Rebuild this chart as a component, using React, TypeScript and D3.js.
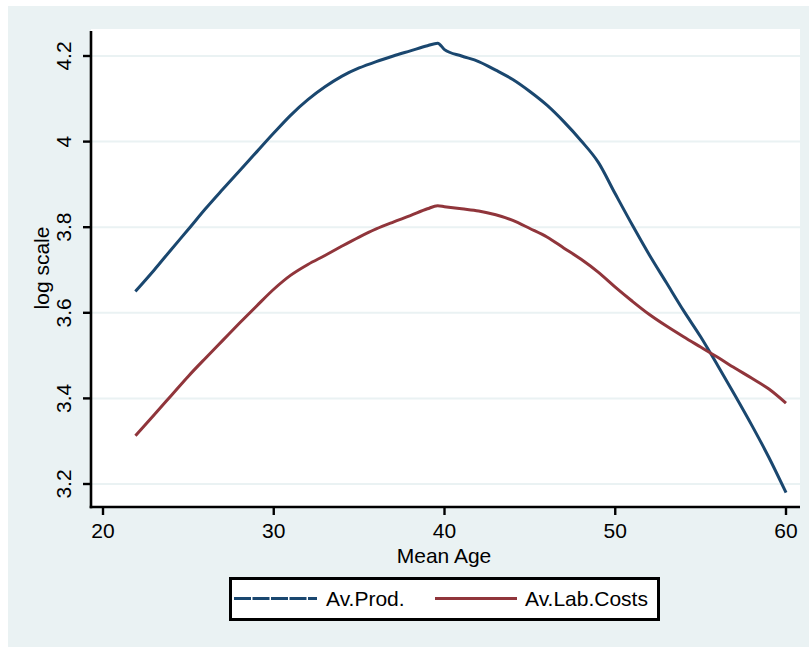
import React from "react";
import * as d3 from "d3";

const ages = [21.9, 23, 24, 25, 26, 27, 28, 29, 30, 31, 32, 33, 34, 35, 36, 37, 38, 39, 39.6, 40, 41, 42, 43, 44, 45, 46, 47, 48, 49, 50, 51, 52, 53, 54, 55, 56, 57, 58, 59, 60];
const avProd = [3.65, 3.7, 3.748, 3.795, 3.843, 3.888, 3.932, 3.976, 4.02, 4.062, 4.098, 4.128, 4.153, 4.172, 4.187, 4.2, 4.212, 4.224, 4.23, 4.215, 4.2, 4.187, 4.167, 4.145, 4.117, 4.085, 4.046, 4.002, 3.952, 3.878, 3.805, 3.735, 3.67, 3.605, 3.544, 3.477, 3.408, 3.337, 3.262, 3.18];
const avLabCosts = [3.313, 3.362, 3.407, 3.452, 3.494, 3.535, 3.576, 3.616, 3.655, 3.688, 3.713, 3.734, 3.756, 3.777, 3.796, 3.812, 3.827, 3.843, 3.85, 3.848, 3.843, 3.838, 3.829, 3.816, 3.797, 3.777, 3.751, 3.725, 3.695, 3.66, 3.627, 3.596, 3.569, 3.544, 3.52, 3.496, 3.471, 3.447, 3.422, 3.389];
const xTicks = [20, 30, 40, 50, 60];
const yTicks = [3.2, 3.4, 3.6, 3.8, 4, 4.2];
const seriesNames = ["Av.Prod.", "Av.Lab.Costs"];
const xTitle = "Mean Age";
const yTitle = "log scale";

const BG = "#EAF2F3";
const BLUE = "#1A476F";
const RED = "#90353B";
const FONT = "'Liberation Sans', Arial, sans-serif";

export default function App() {
  const plotL = 91, plotR = 800, plotT = 29, plotB = 507;
  const x = d3.scaleLinear().domain([20, 60]).range([103, 786]);
  const y = d3.scaleLinear().domain([3.2, 4.2]).range([484, 56]);
  const line = d3
    .line<number>()
    .x((_, i) => x(ages[i]))
    .y((d) => y(d))
    .curve(d3.curveMonotoneX);

  return (
    <svg
      width={809}
      height={647}
      style={{ position: "absolute", left: 0, top: 0 }}
      fontFamily={FONT}
    >
      <rect x={0} y={0} width={809} height={647} fill="#ffffff" />
      <rect x={8} y={6} width={801} height={641} fill={BG} />
      <rect x={plotL} y={plotT} width={plotR - plotL} height={plotB - plotT} fill="#ffffff" />
      {yTicks.map((t) => (
        <line key={"g" + t} x1={plotL} x2={plotR} y1={y(t)} y2={y(t)} stroke={BG} strokeWidth={2} />
      ))}
      {/* series */}
      <path d={line(avProd) || ""} fill="none" stroke={BLUE} strokeWidth={3} />
      <path d={line(avLabCosts) || ""} fill="none" stroke={RED} strokeWidth={3} />
      {/* axes */}
      <line x1={plotL} x2={plotL} y1={31} y2={plotB + 1.3} stroke="#000" strokeWidth={2.6} />
      <line x1={plotL - 1.3} x2={plotR} y1={plotB} y2={plotB} stroke="#000" strokeWidth={2.6} />
      {yTicks.map((t) => (
        <g key={"y" + t}>
          <line x1={plotL - 8} x2={plotL} y1={y(t)} y2={y(t)} stroke="#000" strokeWidth={2.4} />
          <text
            transform={`translate(71,${y(t)}) rotate(-90)`}
            textAnchor="middle"
            fontSize={21}
            fill="#000"
          >
            {d3.format("")(t)}
          </text>
        </g>
      ))}
      {xTicks.map((t) => (
        <g key={"x" + t}>
          <line x1={x(t)} x2={x(t)} y1={plotB} y2={plotB + 8} stroke="#000" strokeWidth={2.4} />
          <text x={x(t)} y={538} textAnchor="middle" fontSize={21} fill="#000">
            {t}
          </text>
        </g>
      ))}
      <text x={444} y={563} textAnchor="middle" fontSize={21} fill="#000">
        {xTitle}
      </text>
      <text transform={`translate(49,268) rotate(-90)`} textAnchor="middle" fontSize={21} fill="#000">
        {yTitle}
      </text>
      {/* legend */}
      <rect x={230.5} y={578.5} width={428} height={41} fill="#ffffff" stroke="#000" strokeWidth={3} />
      <line x1={234} x2={317} y1={598.5} y2={598.5} stroke={BLUE} strokeWidth={3} strokeDasharray="17,1.5" />
      <text x={326} y={606} fontSize={21} fill="#000">
        {seriesNames[0]}
      </text>
      <line x1={435} x2={517} y1={598.5} y2={598.5} stroke={RED} strokeWidth={3} />
      <text x={525} y={606} fontSize={21} fill="#000">
        {seriesNames[1]}
      </text>
    </svg>
  );
}
